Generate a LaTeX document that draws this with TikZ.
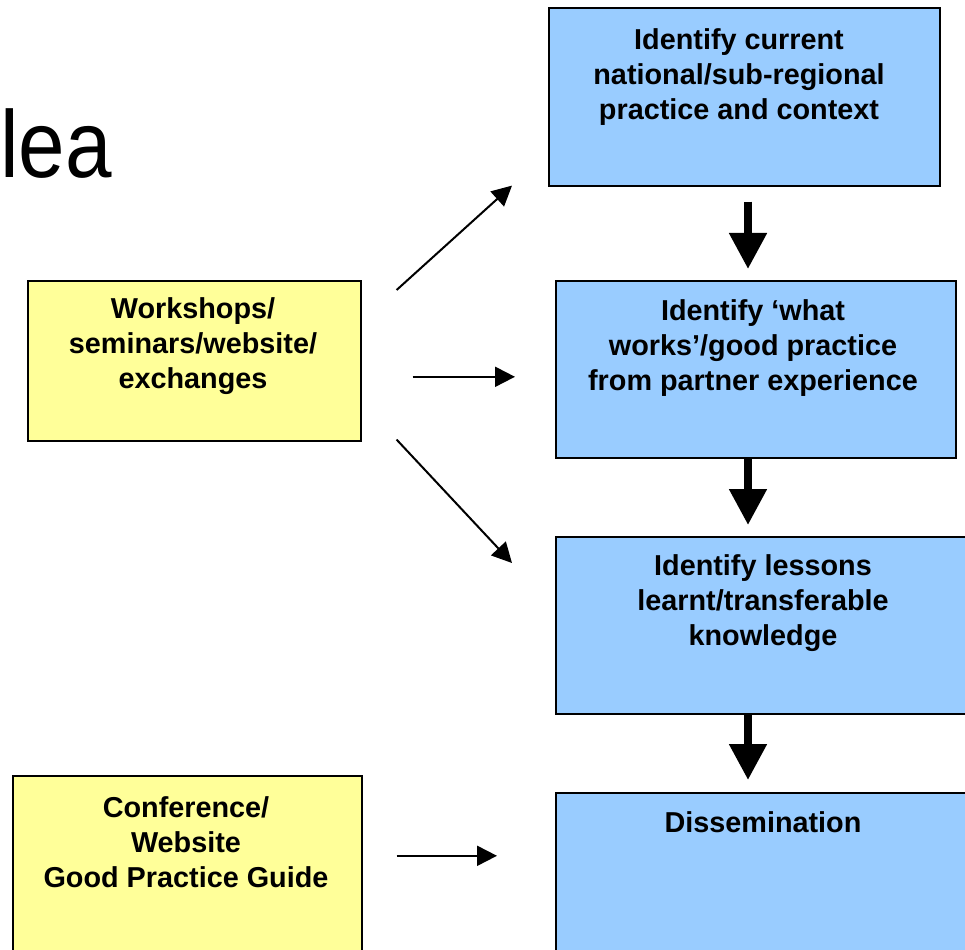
\documentclass[tikz,border=0pt]{standalone}
\usepackage{fontspec}
\setmainfont{Liberation Sans}
\newfontfamily\titlefont[FakeStretch=0.88]{Liberation Sans}
\usetikzlibrary{arrows.meta,calc}

\definecolor{stageblue}{RGB}{153,204,255}
\definecolor{noteyellow}{RGB}{255,255,153}

\tikzset{
  stagebox/.style={draw=black, line width=1.6pt, fill=stageblue, anchor=north west, inner sep=0pt},
  notebox/.style={draw=black, line width=1.6pt, fill=noteyellow, anchor=north west, inner sep=0pt},
  boxtext/.style={font=\bfseries\fontsize{28.8}{35}\selectfont, align=center, anchor=north, inner sep=0pt},
  thinarrow/.style={line width=2pt, -{Triangle[length=20pt,width=20pt]}},
  bigarrow/.style={line width=8pt, -{Triangle[length=36pt,width=36pt]}},
}

\begin{document}
\begin{tikzpicture}[x=1pt,y=-1pt]
    \useasboundingbox (0,0) rectangle (965,949);

    % Title fragment
    \node[font=\titlefont\fontsize{95}{95}\selectfont, anchor=base west, inner sep=0pt] (title) at (0,178) {lea};

    % Stages (blue)
    \node[stagebox, minimum width=391pt, minimum height=178pt] (b1) at (548,7) {};
    \node[stagebox, minimum width=400pt, minimum height=177pt] (b2) at (555,280) {};
    \node[stagebox, minimum width=416pt, minimum height=177pt] (b3) at (555,536) {};
    \node[stagebox, minimum width=416pt, minimum height=200pt] (b4) at (555,792) {};

    \node[boxtext] (t1) at (739,28) {Identify current\\national/sub-regional\\practice and context};
    \node[boxtext] (t2) at (753,299) {Identify ‘what\\works’/good practice\\from partner experience};
    \node[boxtext] (t3) at (763,554) {Identify lessons\\learnt/transferable\\knowledge};
    \node[boxtext] (t4) at (763,811) {Dissemination};

    % Activities (yellow)
    \node[notebox, minimum width=333pt, minimum height=160pt] (ws) at (27,280) {};
    \node[notebox, minimum width=349pt, minimum height=200pt] (cf) at (12,775) {};

    \node[boxtext] (tws) at (193,297) {Workshops/\\seminars/website/\\exchanges};
    \node[boxtext] (tcf) at (186,796) {Conference/\\Website\\Good Practice Guide};

    % Flow between stages
    \coordinate (spine) at (748,0);
    \draw[bigarrow, shorten <=15pt, shorten >=11pt] (b1.south -| spine) -- (b2.north -| spine);
    \draw[bigarrow, shorten >=11pt] (b2.south -| spine) -- (b3.north -| spine);
    \draw[bigarrow, shorten >=12pt] (b3.south -| spine) -- (b4.north -| spine);

    % Feeds from activities
    \coordinate (ws-up) at ($(ws.north east)+(35,10)$);
    \coordinate (ws-mid) at ($(ws.east)+(51,16)$);
    \coordinate (ws-down) at ($(ws.south east)+(35,-2)$);
    \coordinate (cf-mid) at ($(cf.east)+(34,-20)$);
    \draw[thinarrow] (ws-up) -- ($(b1.south west)+(-36,-1)$);
    \draw[thinarrow] (ws-mid) -- ($(b2.west |- ws-mid)+(-40,0)$);
    \draw[thinarrow] (ws-down) -- ($(b3.north west)+(-43,27)$);
    \draw[thinarrow] (cf-mid) -- ($(b4.west |- cf-mid)+(-58,0)$);
\end{tikzpicture}
\end{document}
